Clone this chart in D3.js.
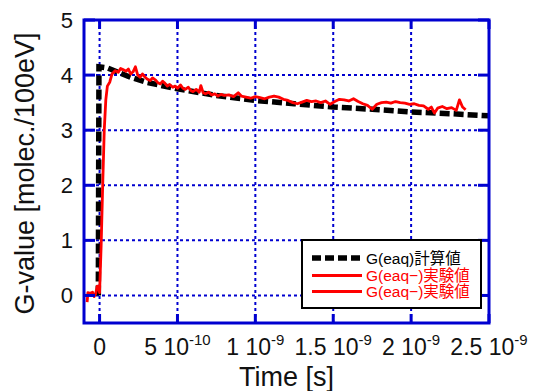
<!DOCTYPE html>
<html>
<head>
<meta charset="utf-8">
<script src="https://d3js.org/d3.v7.min.js"></script>
<style>
  html, body { margin: 0; padding: 0; background: #fff; }
  svg { display: block; }
  text { font-family: "Liberation Sans", Arial, "Noto Sans CJK JP", sans-serif; }
</style>
</head>
<body>
<div id="chart"></div>
<script>
// time is in units of 1e-10 s
const calcT = [-0.08, -0.04, 0.5, 1.2, 2, 3, 5, 7.5, 10, 12.5, 15, 17.5, 20, 22.5, 25];
const calcG = [0, 4.15, 4.13, 4.05, 3.96, 3.87, 3.75, 3.63, 3.54, 3.48, 3.42, 3.38, 3.33, 3.3, 3.26];

const expT = [-0.8, -0.75, -0.6, -0.45, -0.35, -0.25, -0.15, -0.05, 0.0, 0.1, 0.2, 0.3, 0.4, 0.5, 0.65, 0.8,
  1.0, 1.2, 1.35, 1.5, 1.7, 1.85, 2.0, 2.15, 2.3, 2.45, 2.6, 2.75, 2.9, 3.05, 3.25, 3.4, 3.6, 3.75, 3.9,
  4.05, 4.2, 4.35, 4.5, 4.7, 4.85, 5.0, 5.2, 5.35, 5.5, 5.7, 5.85, 6.0, 6.2, 6.4, 6.5, 6.65, 6.8, 7.0,
  7.2, 7.4, 7.6, 7.8, 8.0, 8.3, 8.6, 8.9, 9.1, 9.4, 9.7, 10.0, 10.3, 10.6, 10.9, 11.2, 11.5, 11.8, 12.1,
  12.4, 12.7, 13.0, 13.3, 13.6, 13.9, 14.2, 14.5, 14.8, 15.1, 15.4, 15.7, 16.0, 16.3, 16.6, 16.9, 17.2,
  17.5, 17.8, 18.1, 18.4, 18.7, 19.0, 19.3, 19.6, 19.9, 20.2, 20.5, 20.8, 21.1, 21.3, 21.5, 21.7, 22.0,
  22.3, 22.6, 22.9, 23.1, 23.3, 23.5];
const expG = [-0.12, 0.05, 0.04, 0.06, -0.02, 0.03, 0.17, 0.12, 0.05, 0.9, 2.0, 3.0, 3.55, 3.8, 3.87, 4.02,
  4.08, 4.05, 4.12, 4.1, 4.07, 4.11, 4.02, 4.06, 4.15, 4.0, 3.96, 4.02, 3.97, 3.93, 3.9, 3.95, 3.91, 3.86, 3.84,
  3.89, 3.85, 3.8, 3.83, 3.78, 3.8, 3.76, 3.82, 3.76, 3.74, 3.78, 3.72, 3.7, 3.74, 3.69, 3.81, 3.68, 3.66, 3.69,
  3.64, 3.66, 3.62, 3.65, 3.63, 3.64, 3.61, 3.68, 3.62, 3.6, 3.58, 3.61, 3.59, 3.57, 3.6, 3.62, 3.6, 3.56, 3.54,
  3.5, 3.48, 3.51, 3.54, 3.52, 3.53, 3.5, 3.53, 3.47, 3.52, 3.56, 3.55, 3.53, 3.57, 3.52, 3.48, 3.45,
  3.38, 3.47, 3.5, 3.51, 3.49, 3.52, 3.5, 3.49, 3.47, 3.48, 3.45, 3.44, 3.38, 3.42, 3.31, 3.4, 3.43,
  3.39, 3.41, 3.36, 3.55, 3.42, 3.37];

const xTicks = [0, 5, 10, 15, 20, 25];
const xTickMant = ["0", "5 10", "1 10", "1.5 10", "2 10", "2.5 10"];
const xTickExp = ["", "-10", "-9", "-9", "-9", "-9"];
const yTicks = [0, 1, 2, 3, 4, 5];

const legendLabels = ["G(eaq)計算値", "G(eaq\u2212)実験値", "G(eaq\u2212)実験値"];

const W = 535, H = 391;
const margin = { top: 20, right: 46, bottom: 68, left: 84 };
const blue = "#0000d0";

const svg = d3.select("#chart").append("svg")
  .attr("width", W).attr("height", H);

const x = d3.scaleLinear().domain([-1, 25]).range([margin.left, W - margin.right]);
const y = d3.scaleLinear().domain([-0.5, 5]).range([H - margin.bottom, margin.top]);

const x0 = x.range()[0], x1 = x.range()[1];
const y0 = y.range()[0], y1 = y.range()[1];

svg.append("clipPath").attr("id", "plot-clip")
  .append("rect").attr("x", x0).attr("y", y1).attr("width", x1 - x0).attr("height", y0 - y1);

// dotted grid
const grid = svg.append("g").attr("stroke", blue).attr("stroke-width", 2).attr("stroke-dasharray", "3,3");
grid.selectAll("line.gx").data(xTicks.filter(d => d < 25)).join("line")
  .attr("x1", d => x(d)).attr("x2", d => x(d)).attr("y1", y0).attr("y2", y1);
grid.selectAll("line.gy").data(yTicks.filter(d => d < 5)).join("line")
  .attr("x1", x0).attr("x2", x1).attr("y1", d => y(d)).attr("y2", d => y(d));

// curves
const plot = svg.append("g").attr("clip-path", "url(#plot-clip)");
const line = d3.line().x(d => x(d[0])).y(d => y(d[1]));

plot.append("path")
  .datum(calcT.map((t, i) => [t, calcG[i]]))
  .attr("d", line)
  .attr("fill", "none").attr("stroke", "#000").attr("stroke-width", 5.5)
  .attr("stroke-dasharray", "10,4");

plot.append("path")
  .datum(expT.map((t, i) => [t, expG[i]]))
  .attr("d", line)
  .attr("fill", "none").attr("stroke", "#ff0000").attr("stroke-width", 2.8)
  .attr("stroke-linejoin", "round");

// frame and tick marks
const frame = svg.append("g").attr("stroke", blue).attr("stroke-width", 3);
frame.append("rect").attr("x", x0).attr("y", y1).attr("width", x1 - x0).attr("height", y0 - y1)
  .attr("fill", "none");
frame.selectAll("line.yl").data(yTicks).join("line")
  .attr("x1", x0).attr("x2", x0 + 11).attr("y1", d => y(d)).attr("y2", d => y(d));
frame.selectAll("line.yr").data(yTicks).join("line")
  .attr("x1", x1 - 11).attr("x2", x1).attr("y1", d => y(d)).attr("y2", d => y(d));
frame.selectAll("line.xb").data(xTicks).join("line")
  .attr("x1", d => x(d)).attr("x2", d => x(d)).attr("y1", y0).attr("y2", y0 - 9);
frame.selectAll("line.xt").data(xTicks).join("line")
  .attr("x1", d => x(d)).attr("x2", d => x(d)).attr("y1", y1).attr("y2", y1 + 9);

// tick labels
svg.append("g").selectAll("text").data(yTicks).join("text")
  .attr("x", 73).attr("y", d => y(d)).attr("dy", "0.36em")
  .attr("text-anchor", "end").attr("font-size", 22).attr("fill", "#111")
  .text(d => d);

const xl = svg.append("g").selectAll("text").data(xTicks).join("text")
  .attr("x", d => x(d)).attr("y", 355)
  .attr("text-anchor", "middle").attr("font-size", 23).attr("fill", "#111");
xl.append("tspan").text((d, i) => xTickMant[i]);
xl.append("tspan").attr("font-size", 15).attr("dy", -10).text((d, i) => xTickExp[i]);

// axis titles
svg.append("text")
  .attr("x", (x0 + x1) / 2).attr("y", 386)
  .attr("text-anchor", "middle").attr("font-size", 27).attr("fill", "#111")
  .text("Time [s]");
svg.append("text")
  .attr("transform", `translate(34,${(y0 + y1) / 2 + 2}) rotate(-90)`)
  .attr("text-anchor", "middle").attr("font-size", 27).attr("fill", "#111")
  .text("G-value [molec./100eV]");

// legend
const lg = svg.append("g").attr("transform", "translate(302,240)");
lg.append("rect").attr("width", 179).attr("height", 68)
  .attr("fill", "#fff").attr("stroke", "#000").attr("stroke-width", 2);
const legendRows = [
  { color: "#000", width: 5.5, dash: "9,4", y: 18 },
  { color: "#ff0000", width: 2.8, dash: null, y: 35.5 },
  { color: "#ff0000", width: 2.8, dash: null, y: 51.5 }
];
legendRows.forEach((r, i) => {
  lg.append("line").attr("x1", 10).attr("x2", 60).attr("y1", r.y).attr("y2", r.y)
    .attr("stroke", r.color).attr("stroke-width", r.width)
    .attr("stroke-dasharray", r.dash);
  lg.append("text").attr("x", 64).attr("y", r.y).attr("dy", "0.36em")
    .attr("font-size", 15.5).attr("fill", i === 0 ? "#000" : "#ff0000")
    .text(legendLabels[i]);
});
</script>
</body>
</html>
